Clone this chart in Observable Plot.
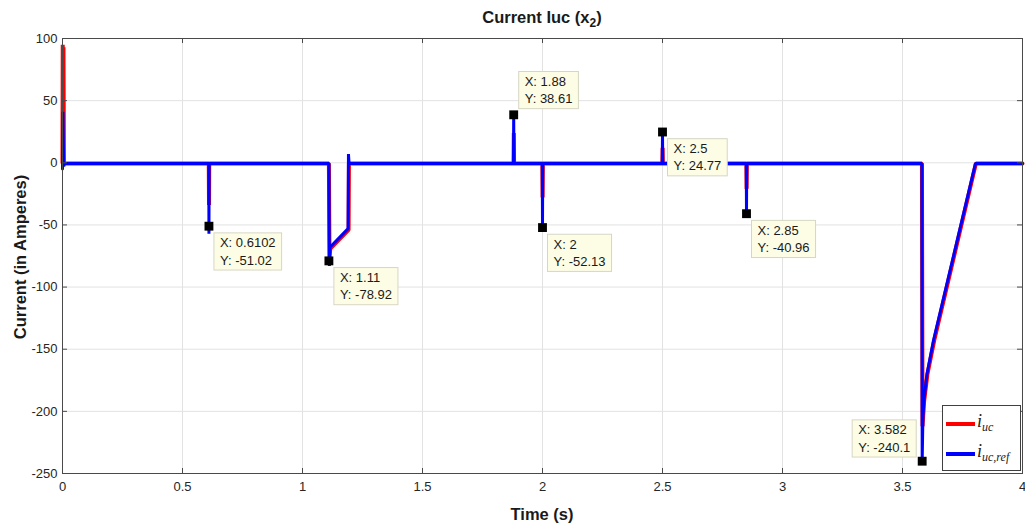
<!DOCTYPE html>
<html><head><meta charset="utf-8">
<script src="https://cdn.jsdelivr.net/npm/d3@7"></script>
<script src="https://cdn.jsdelivr.net/npm/@observablehq/plot@0.6"></script>
<style>
body{margin:0;background:#fff;}
#wrap{position:relative;width:1025px;height:531px;font-family:"Liberation Sans",Arial,sans-serif;color:#262626;}
#wrap svg{display:block;}
.lab{position:absolute;font-weight:bold;font-size:16.5px;white-space:nowrap;color:#1a1a1a;}
#title{left:542px;top:8px;transform:translateX(-50%);}
#title sub{font-size:12px;vertical-align:-4px;line-height:0;}
#xlabel{left:542px;top:505px;transform:translateX(-50%);}
#ylabel{left:20px;top:257px;transform:translate(-50%,-50%) rotate(-90deg);}
#legend{position:absolute;left:942px;top:405px;width:79px;height:66px;border:1px solid #404040;background:#fff;box-sizing:border-box;}
.sw{position:absolute;left:3px;width:29px;height:4px;}
.lt{position:absolute;left:34px;font-family:"Liberation Serif","Times New Roman",serif;font-style:italic;font-size:18px;line-height:18px;color:#222;}
.lt sub{font-size:12px;vertical-align:-4px;line-height:0;}
</style></head><body>
<div id="wrap"></div>
<script>
// ---- data ----
const xTicks = [0, 0.5, 1, 1.5, 2, 2.5, 3, 3.5, 4];
const xTickLabels = ["0", "0.5", "1", "1.5", "2", "2.5", "3", "3.5", "4"];
const yTicks = [100, 50, 0, -50, -100, -150, -200, -250];
const yTickLabels = ["100", "50", "0", "-50", "-100", "-150", "-200", "-250"];

// i_uc (red)
const tUc = [0, 0.001, 0.003, 0.004, 0.006, 0.01,
  0.6095, 0.6105, 0.6115, 0.62,
  1.110, 1.1125, 1.116, 1.192, 1.1935, 1.20,
  1.8795, 1.8805, 1.8815,
  1.9995, 2.0005, 2.0015,
  2.4995, 2.5005, 2.5015,
  2.8495, 2.8505, 2.8515,
  3.581, 3.5835, 3.590, 3.604, 3.632, 3.806, 4.0];
const iUc = [0, 95, 2, 93, -1, -0.5,
  -0.5, -34, -0.5, -0.5,
  -0.5, -76, -69, -54, -0.5, -0.5,
  -0.5, 24, -0.5,
  -0.5, -28, -0.5,
  -0.5, 12, -0.5,
  -0.5, -21, -0.5,
  -0.5, -212, -192, -170, -143, -0.5, -0.5];

// i_uc,ref (blue)
const tRef = [0, 0.002, 0.005, 0.008,
  0.6095, 0.6102, 0.6110, 0.62,
  1.110, 1.112, 1.1145, 1.190, 1.1915, 1.194, 1.20,
  1.879, 1.880, 1.881,
  1.999, 2.000, 2.001,
  2.499, 2.500, 2.501,
  2.849, 2.850, 2.851,
  3.581, 3.582, 3.585, 3.590, 3.602, 3.629, 3.804, 4.0];
const iRef = [-5, 41, -3, -0.5,
  -0.5, -57, -0.5, -0.5,
  -0.5, -83, -68, -53, 7, -0.5, -0.5,
  -0.5, 38.61, -0.5,
  -0.5, -52.13, -0.5,
  -0.5, 24.77, -0.5,
  -0.5, -40.96, -0.5,
  -0.5, -240.1, -205, -190, -170, -143, -0.5, -0.5];

// data tips
const tipX = [0.6102, 1.11, 1.88, 2, 2.5, 2.85, 3.582];
const tipY = [-51.02, -78.92, 38.61, -52.13, 24.77, -40.96, -240.1];
const tipLabelX = ["0.6102", "1.11", "1.88", "2", "2.5", "2.85", "3.582"];
const tipLabelY = ["-51.02", "-78.92", "38.61", "-52.13", "24.77", "-40.96", "-240.1"];
const tipSide = ["below-right", "below-right", "above-right", "below-right", "below-right", "below-right", "above-left"];

// ---- build ----
const W = 1025, H = 531, mL = 62, mR = 3, mT = 38, mB = 58;
const pw = W - mL - mR, ph = H - mT - mB;
const ucData = tUc.map((t, i) => ({t, v: iUc[i]}));
const refData = tRef.map((t, i) => ({t, v: iRef[i]}));
const tips = tipX.map((x, i) => ({x, y: tipY[i], lx: tipLabelX[i], ly: tipLabelY[i], side: tipSide[i]}));
const tipText = d => `X: ${d.lx}\nY: ${d.ly}`;
const sideOffsets = {"below-right": [11, 9], "above-right": [11, -41], "above-left": [-64, -39]};
const axisColor = "#4a4a4a";

const tipMarks = Object.entries(sideOffsets).map(([side, [dx, dy]]) =>
  Plot.text(tips.filter(d => d.side === side), {
    x: "x", y: "y", text: tipText, dx, dy, textAnchor: "start", lineAnchor: "top",
    lineHeight: 1.32, fill: "#1a1a1a", fontSize: 13
  })
);

const plot = Plot.plot({
  width: W, height: H,
  marginLeft: mL, marginRight: mR, marginTop: mT, marginBottom: mB,
  style: {fontFamily: "Liberation Sans, Arial, sans-serif", fontSize: "13px", color: "#262626", background: "#fff", overflow: "visible"},
  x: {domain: [0, 4]},
  y: {domain: [-250, 100]},
  marks: [
    Plot.gridX(xTicks, {stroke: "#e2e2e2", strokeOpacity: 1}),
    Plot.gridY(yTicks, {stroke: "#e2e2e2", strokeOpacity: 1}),
    Plot.axisX(xTicks, {anchor: "bottom", tickSize: 0, tickPadding: 8, tickFormat: d => xTickLabels[xTicks.indexOf(d)], label: null, fill: "#262626"}),
    Plot.axisY(yTicks, {anchor: "left", tickSize: 0, tickPadding: 5, tickFormat: d => yTickLabels[yTicks.indexOf(d)], label: null, fill: "#262626"}),
    Plot.line(ucData, {x: "t", y: "v", stroke: "#ff0000", strokeWidth: 4, strokeLinejoin: "miter"}),
    Plot.line(refData, {x: "t", y: "v", stroke: "#0000ff", strokeWidth: 3, strokeLinejoin: "miter"}),
    Plot.frame({stroke: axisColor, strokeWidth: 1}),
    Plot.tickY(yTicks, {y: d => d, insetRight: pw - 5, stroke: axisColor}),
    Plot.tickY(yTicks, {y: d => d, insetLeft: pw - 5, stroke: axisColor}),
    Plot.tickX(xTicks, {x: d => d, insetTop: ph - 5, stroke: axisColor}),
    Plot.tickX(xTicks, {x: d => d, insetBottom: ph - 5, stroke: axisColor}),
    Plot.dot(tips, {x: "x", y: "y", symbol: "square", r: 5, fill: "#000", stroke: null}),
    ...tipMarks
  ]
});

const wrap = document.getElementById("wrap");
wrap.appendChild(plot);

// boxes behind data-tip texts, sized from the rendered text
const svgNS = "http://www.w3.org/2000/svg";
Array.from(plot.querySelectorAll("text"))
  .filter(t => t.textContent.trim().startsWith("X:"))
  .forEach(t => {
    const b = t.getBBox();
    const r = document.createElementNS(svgNS, "rect");
    r.setAttribute("x", b.x - 6);
    r.setAttribute("y", b.y - 2.5);
    r.setAttribute("width", b.width + 12);
    r.setAttribute("height", b.height + 5);
    r.setAttribute("fill", "#fdfde6");
    r.setAttribute("stroke", "#d6d6c4");
    r.setAttribute("stroke-width", "1");
    const tr = t.getAttribute("transform");
    if (tr) r.setAttribute("transform", tr);
    t.parentNode.insertBefore(r, t);
  });

// title, axis labels, legend
wrap.insertAdjacentHTML("beforeend",
  '<div class="lab" id="title">Current Iuc (x<sub>2</sub>)</div>' +
  '<div class="lab" id="xlabel">Time (s)</div>' +
  '<div class="lab" id="ylabel">Current (in Amperes)</div>' +
  '<div id="legend">' +
    '<div class="sw" style="top:16px;background:#ff0000"></div>' +
    '<div class="lt" style="top:6px">i<sub>uc</sub></div>' +
    '<div class="sw" style="top:46px;background:#0000ff"></div>' +
    '<div class="lt" style="top:36px">i<sub>uc,ref</sub></div>' +
  '</div>');
</script>
</body></html>
